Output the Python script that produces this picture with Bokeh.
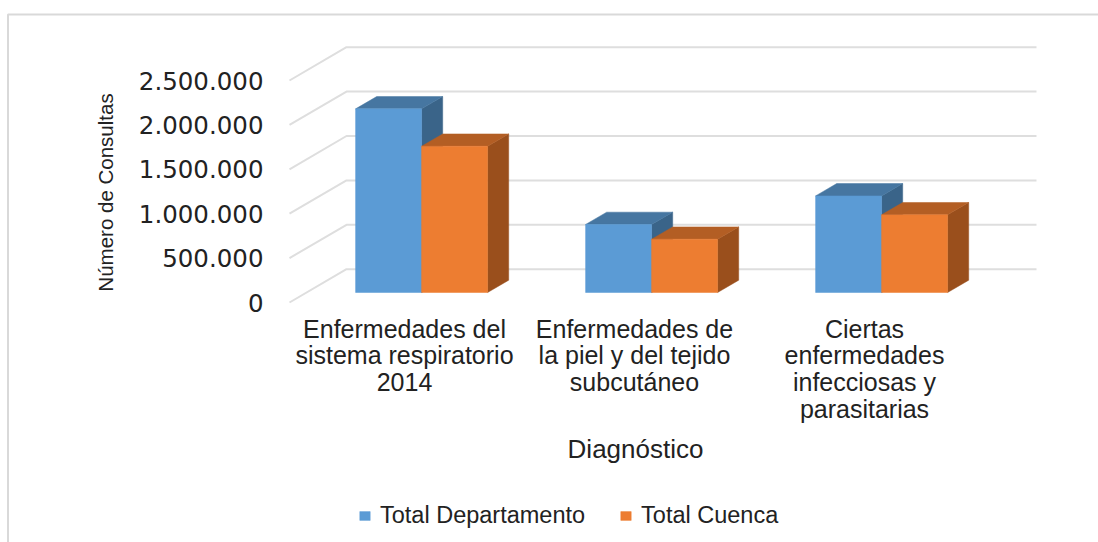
from math import pi
from bokeh.embed import file_html
from bokeh.resources import INLINE
from bokeh.plotting import figure
from bokeh.models import (FixedTicker, Label, BoxAnnotation, Legend, LegendItem, LinearAxis)

categories = ["Enfermedades del\nsistema respiratorio\n2014",
              "Enfermedades de\nla piel y del tejido\nsubcutáneo",
              "Ciertas\nenfermedades\ninfecciosas y\nparasitarias"]
total_departamento = [2068000, 766000, 1088000]
total_cuenca = [1647000, 600000, 875000]
y_ticks = [0, 500000, 1000000, 1500000, 2000000, 2500000]
y_tick_labels = ["0", "500.000", "1.000.000", "1.500.000", "2.000.000", "2.500.000"]
series_names = ["Total Departamento", "Total Cuenca"]
front_colors = ["#5B9BD5", "#ED7D31"]
top_colors = ["#4676A1", "#B35E24"]
side_colors = ["#3A6489", "#9A4F1C"]

W, H = 1098, 542
X0_PX, Y0_PX = 289, 302
PX_PER_CAT = 230.0
PX_PER_VAL = 44.4 / 500000

x_of = lambda px: (px - X0_PX) / PX_PER_CAT
y_of = lambda py: (Y0_PX - py) / PX_PER_VAL

DX = 57 / PX_PER_CAT
DY = 33.3 / PX_PER_VAL
FRONT_D, BACK_D = 0.30, 0.67
BAR_W = 66 / PX_PER_CAT

p = figure(width=W, height=H, output_backend="svg", toolbar_location=None,
           x_range=(x_of(0), x_of(W)), y_range=(y_of(H), y_of(0)),
           min_border=0, outline_line_color=None, background_fill_color="white",
           x_axis_type=None, y_axis_type=None)
p.grid.visible = False

# Axes, fixed at the front corner of the floor
ya = LinearAxis(fixed_location=0, ticker=FixedTicker(ticks=y_ticks))
ya.major_label_overrides = dict(zip(y_ticks, y_tick_labels))
ya.axis_line_color = None
ya.major_tick_line_color = None
ya.minor_tick_line_color = None
ya.major_label_standoff = 20
ya.major_label_text_font = "DejaVu Sans"
ya.major_label_text_font_size = "24.5px"
ya.major_label_text_color = "#222222"
p.add_layout(ya, "left")

xt = [i + 0.5 for i in range(len(categories))]
xa = LinearAxis(fixed_location=y_of(304), ticker=FixedTicker(ticks=xt))
xa.major_label_overrides = dict(zip(xt, categories))
xa.axis_line_color = None
xa.major_tick_line_color = None
xa.minor_tick_line_color = None
xa.major_label_standoff = 4
xa.major_label_orientation = "horizontal"
xa.major_label_text_font = "Liberation Sans"
xa.major_label_text_font_size = "25px"
xa.major_label_text_line_height = 0.96
xa.major_label_text_color = "#222222"
p.add_layout(xa, "below")

# Chart border
p.add_layout(BoxAnnotation(left=x_of(7.5), right=x_of(1400), top=y_of(14), bottom=y_of(800),
                           fill_alpha=0, line_color="#D9D9D9", line_alpha=1, line_width=2,
                           level="underlay"))

# Floor/wall gridlines
n_cat = len(categories)
gx = [[0, DX, n_cat + DX] for _ in y_ticks]
gy = [[v, v + DY, v + DY] for v in y_ticks]
p.multi_line(gx, gy, line_color="#DEDEDE", line_width=2)

# 3D bars
renderers = []
for s, vals in enumerate([total_departamento, total_cuenca]):
    tx, ty, sx, sy = [], [], [], []
    lefts, rights, tops, bottoms = [], [], [], []
    for i, v in enumerate(vals):
        l = i + 0.5 + FRONT_D * DX - BAR_W + s * BAR_W
        r = l + BAR_W
        b = FRONT_D * DY
        t = b + v
        k = (BACK_D - FRONT_D)
        ox, oy = k * DX, k * DY
        lefts.append(l); rights.append(r); tops.append(t); bottoms.append(b)
        tx.append([l, r, r + ox, l + ox]); ty.append([t, t, t + oy, t + oy])
        sx.append([r, r + ox, r + ox, r]); sy.append([b, b + oy, t + oy, t])
    p.patches(sx, sy, fill_color=side_colors[s], line_color=side_colors[s], line_width=0.5)
    p.patches(tx, ty, fill_color=top_colors[s], line_color=top_colors[s], line_width=0.5)
    renderers.append(p.quad(left=lefts, right=rights, top=tops, bottom=bottoms,
                            fill_color=front_colors[s], line_color=front_colors[s], line_width=0.5))

# Titles
p.add_layout(Label(x=x_of(105), y=y_of(192), text="Número de Consultas", angle=pi / 2,
                   text_font="Liberation Sans", text_font_size="20.5px",
                   text_align="center", text_baseline="middle", text_color="#222222"))
p.add_layout(Label(x=x_of(635), y=y_of(448), text="Diagnóstico",
                   text_font="Liberation Sans", text_font_size="26px",
                   text_align="center", text_baseline="middle", text_color="#222222"))

# Legend
leg = Legend(items=[LegendItem(label=n, renderers=[r]) for n, r in zip(series_names, renderers)],
             orientation="horizontal", location=(358, H - 529),
             label_text_font="Liberation Sans", label_text_font_size="23.5px",
             label_text_color="#222222", border_line_color=None,
             background_fill_alpha=0, glyph_width=13, glyph_height=11,
             spacing=34, label_standoff=9, margin=0, padding=0)
p.add_layout(leg, "center")

open("out.html", "w").write(file_html(p, INLINE))
